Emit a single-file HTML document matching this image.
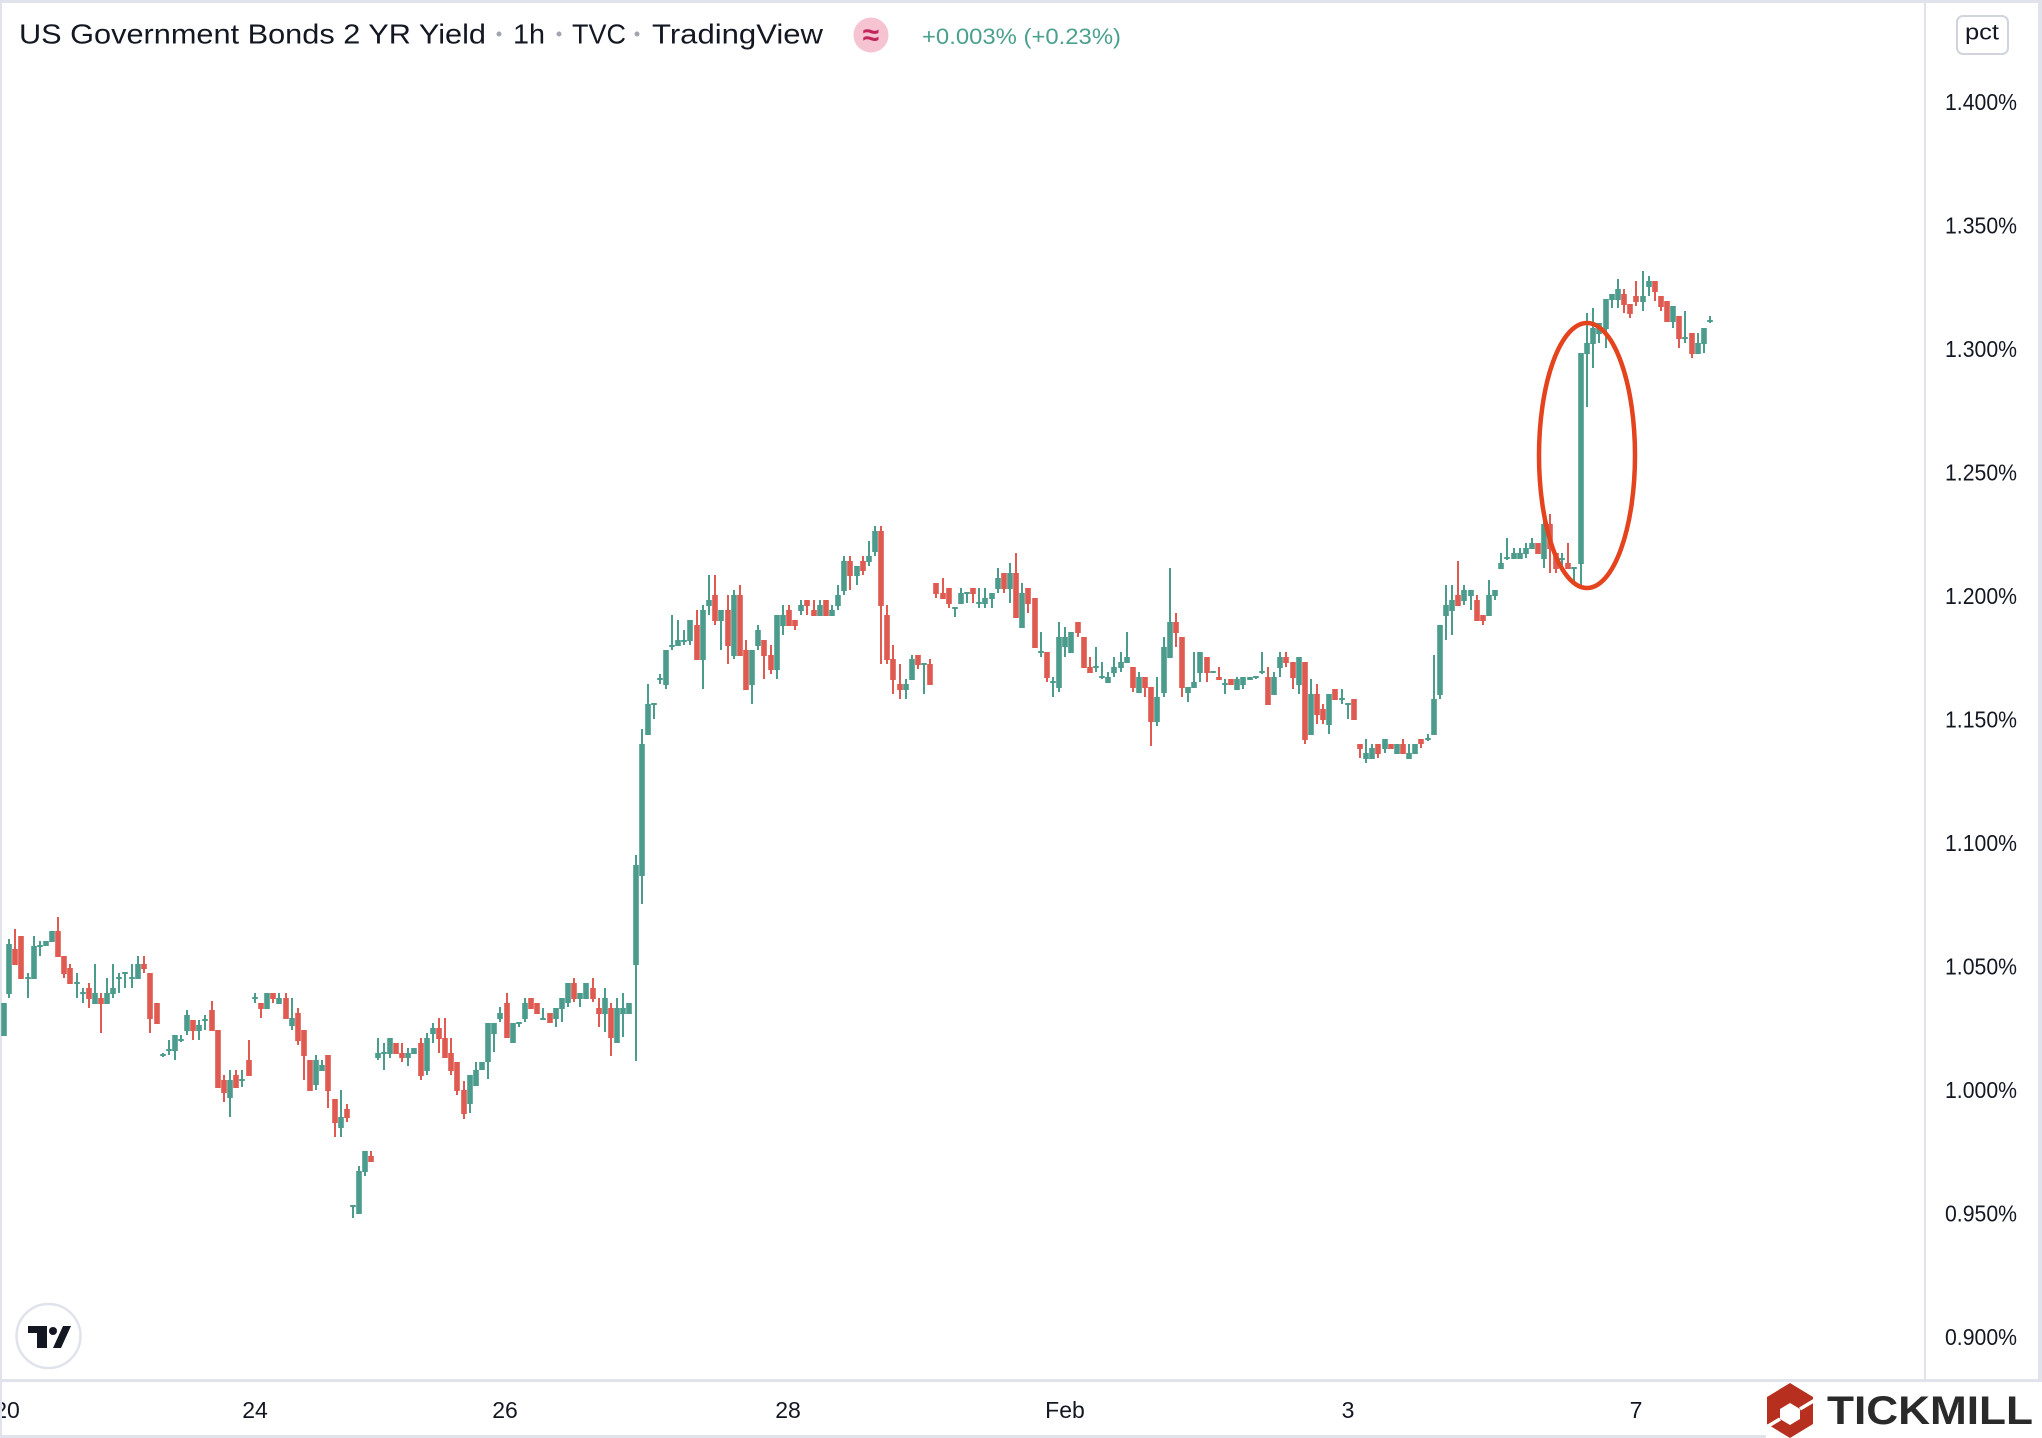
<!DOCTYPE html>
<html>
<head>
<meta charset="utf-8">
<style>
html,body{margin:0;padding:0;background:#fff;}
body{width:2042px;height:1438px;overflow:hidden;position:relative;}
svg{position:absolute;left:0;top:0;display:block;}
text{font-family:"Liberation Sans",Arial,sans-serif;}
</style>
</head>
<body>
<svg id="chart" width="2042" height="1438" viewBox="0 0 2042 1438" xmlns="http://www.w3.org/2000/svg">
  <rect x="0" y="0" width="2042" height="1438" fill="#ffffff"/>
  <!-- borders -->
  <rect x="0" y="0" width="2042" height="3" fill="#e0e3eb"/>
  <rect x="0" y="0" width="2" height="1438" fill="#e0e3eb"/>
  <rect x="2038" y="0" width="4" height="1381" fill="#e0e3eb"/>
  <rect x="0" y="1435" width="1766" height="3" fill="#e0e3eb"/>
  <!-- axis separators -->
  <rect x="1924" y="0" width="2" height="1381" fill="#e0e3eb"/>
  <rect x="0" y="1379" width="2042" height="3" fill="#e0e3eb"/>

  <g id="candles"></g>

  <!-- highlight ellipse -->
  <ellipse cx="1587" cy="455.5" rx="48" ry="132.5" fill="none" stroke="#e5431d" stroke-width="4.5"/>

  <!-- title -->
  <text x="19" y="43.5" font-size="28" fill="#131722" textLength="467" lengthAdjust="spacingAndGlyphs">US Government Bonds 2 YR Yield</text>
  <circle cx="499" cy="34" r="2.5" fill="#a3a6af"/>
  <text x="513" y="43.5" font-size="28" fill="#131722" textLength="32" lengthAdjust="spacingAndGlyphs">1h</text>
  <circle cx="559" cy="34" r="2.5" fill="#a3a6af"/>
  <text x="572" y="43.5" font-size="28" fill="#131722" textLength="54" lengthAdjust="spacingAndGlyphs">TVC</text>
  <circle cx="637" cy="34" r="2.5" fill="#a3a6af"/>
  <text x="652" y="43.5" font-size="28" fill="#131722" textLength="171" lengthAdjust="spacingAndGlyphs">TradingView</text>
  <circle cx="871" cy="35" r="17.5" fill="#f5c3d1"/>
  <text x="871" y="45" font-size="30" font-weight="bold" fill="#c2255c" text-anchor="middle">≈</text>
  <text x="922" y="44" font-size="22" fill="#4ba08e" textLength="199" lengthAdjust="spacingAndGlyphs">+0.003% (+0.23%)</text>

  <!-- pct button -->
  <rect x="1957" y="16" width="51" height="38" rx="6" ry="6" fill="#ffffff" stroke="#d1d4dc" stroke-width="2"/>
  <text x="1982" y="39.5" font-size="22" fill="#131722" text-anchor="middle" textLength="34" lengthAdjust="spacingAndGlyphs">pct</text>

  <!-- price labels -->
  <g font-size="23" fill="#131722">
    <text x="1945" y="110" textLength="72" lengthAdjust="spacingAndGlyphs">1.400%</text>
    <text x="1945" y="233.5" textLength="72" lengthAdjust="spacingAndGlyphs">1.350%</text>
    <text x="1945" y="357" textLength="72" lengthAdjust="spacingAndGlyphs">1.300%</text>
    <text x="1945" y="480.5" textLength="72" lengthAdjust="spacingAndGlyphs">1.250%</text>
    <text x="1945" y="604" textLength="72" lengthAdjust="spacingAndGlyphs">1.200%</text>
    <text x="1945" y="727.5" textLength="72" lengthAdjust="spacingAndGlyphs">1.150%</text>
    <text x="1945" y="851" textLength="72" lengthAdjust="spacingAndGlyphs">1.100%</text>
    <text x="1945" y="974.5" textLength="72" lengthAdjust="spacingAndGlyphs">1.050%</text>
    <text x="1945" y="1098" textLength="72" lengthAdjust="spacingAndGlyphs">1.000%</text>
    <text x="1945" y="1221.5" textLength="72" lengthAdjust="spacingAndGlyphs">0.950%</text>
    <text x="1945" y="1345" textLength="72" lengthAdjust="spacingAndGlyphs">0.900%</text>
  </g>

  <!-- time labels -->
  <g font-size="23" fill="#131722" text-anchor="middle">
    <text x="7" y="1418">20</text>
    <text x="255" y="1418">24</text>
    <text x="505" y="1418">26</text>
    <text x="788" y="1418">28</text>
    <text x="1065" y="1418">Feb</text>
    <text x="1348" y="1418">3</text>
    <text x="1636" y="1418">7</text>
  </g>
  <rect x="0" y="1382" width="2" height="53" fill="#e0e3eb"/>

  <!-- TradingView logo -->
  <circle cx="48.5" cy="1336" r="32" fill="#ffffff" stroke="#e0e3eb" stroke-width="2.5"/>
  <path d="M28 1326 H47 V1348 H37 V1333 H28 Z" fill="#131722"/>
  <circle cx="53" cy="1331" r="4" fill="#131722"/>
  <path d="M63 1326 H71 L61 1348 H53 Z" fill="#131722"/>

  <!-- Tickmill logo -->
  <polygon points="1790,1383 1813,1397 1813,1424 1790,1438 1767,1424 1767,1397" fill="#b7301f"/>
  <polygon points="1790,1403 1800,1409 1800,1419 1790,1425 1780,1419 1780,1409" fill="#ffffff"/>
  <line x1="1800" y1="1409" x2="1815" y2="1400" stroke="#ffffff" stroke-width="3.5"/>
  <line x1="1780" y1="1419" x2="1765" y2="1428" stroke="#ffffff" stroke-width="3.5"/>
  <text x="1827" y="1424" font-size="40" font-weight="bold" fill="#2a2a2a" textLength="206" lengthAdjust="spacingAndGlyphs">TICKMILL</text>
</svg>
<script>
(function(){
var D=[
[4,1003,1036,1003,1036,1],[9,944,994,939,998,1],[15,949,965,929,965,0],[21,936,979,936,979,0],[28,977,979,973,998,1],[34,946,979,936,979,1],[40,945,947,941,956,1],[46,941,946,941,946,1],[52,931,942,931,942,1],[58,931,957,917,957,0],[64,956,974,956,978,0],[70,968,984,964,984,0],[77,982,984,973,998,1],[83,992,994,988,1003,1],[89,988,999,983,1008,0],[95,993,1004,964,1004,1],[101,998,1004,993,1033,0],[107,993,1004,978,1004,1],[113,988,994,964,998,1],[119,977,979,973,993,1],[125,972,974,972,988,1],[132,977,979,964,988,1],[138,964,979,956,979,1],[144,964,969,956,973,0],[150,973,1019,973,1033,0],[157,1003,1024,1003,1024,0],[163,1054,1056,1053,1057,1],[169,1049,1051,1040,1055,1],[175,1035,1051,1035,1060,1],[181,1039,1041,1035,1042,1],[187,1015,1031,1010,1035,1],[193,1020,1031,1020,1040,0],[199,1025,1031,1020,1040,1],[205,1019,1021,1015,1030,1],[212,1010,1031,1001,1031,0],[218,1030,1088,1030,1088,0],[224,1080,1093,1075,1102,0],[230,1080,1098,1070,1117,1],[236,1075,1088,1070,1088,0],[242,1079,1081,1070,1087,1],[249,1060,1076,1040,1076,0],[255,997,999,993,1003,1],[261,1003,1009,1003,1018,0],[267,993,1009,993,1009,1],[273,993,999,993,1003,0],[279,998,1004,993,1004,1],[286,998,1019,993,1019,0],[292,1018,1026,998,1030,1],[298,1013,1041,1008,1045,0],[304,1030,1056,1030,1080,0],[310,1060,1091,1060,1091,0],[316,1060,1085,1055,1090,1],[322,1065,1071,1060,1071,1],[328,1055,1091,1055,1108,0],[335,1099,1123,1099,1137,0],[341,1117,1128,1090,1137,1],[347,1109,1118,1104,1122,0],[353,1205,1207,1205,1218,1],[359,1171,1214,1166,1214,1],[365,1151,1172,1151,1176,1],[371,1156,1162,1151,1162,0],[378,1053,1058,1038,1060,1],[384,1052,1054,1043,1070,1],[390,1038,1054,1038,1058,1],[396,1043,1054,1043,1054,0],[402,1053,1058,1043,1062,0],[408,1053,1058,1048,1066,1],[414,1048,1054,1048,1054,1],[421,1043,1076,1038,1080,0],[427,1038,1071,1033,1075,1],[433,1028,1034,1023,1043,1],[439,1028,1039,1018,1053,0],[445,1038,1058,1018,1058,0],[451,1053,1071,1038,1075,0],[457,1062,1091,1062,1095,0],[464,1090,1114,1081,1119,0],[470,1075,1104,1075,1113,1],[476,1070,1086,1062,1086,1],
[482,1062,1070,1062,1070,1],[488,1023,1062,1023,1079,1],[494,1023,1034,1023,1052,1],[500,1013,1019,1007,1022,1],[507,1003,1038,993,1038,0],[513,1023,1043,1023,1043,1],[519,1022,1024,1022,1027,1],[525,1003,1019,998,1022,1],[531,998,1009,998,1009,0],[537,1003,1014,1003,1014,0],[543,1018,1020,1008,1020,1],[550,1013,1023,1013,1023,0],[556,1008,1019,1008,1027,1],[562,998,1009,998,1022,1],[568,983,1003,983,1007,1],[574,983,999,978,1002,0],[580,993,999,993,1007,1],[586,983,999,983,999,1],[593,988,999,978,1002,0],[599,1008,1014,998,1027,0],[605,998,1014,988,1032,1],[611,1008,1038,1003,1056,0],[617,1008,1043,998,1043,1],[623,1008,1014,993,1037,1],[629,1003,1014,1003,1014,1],[636,865,965,855,1061,1],[642,744,876,729,904,1],[648,704,735,684,735,1],[654,703,705,703,719,1],[660,678,680,674,684,1],[666,650,685,650,689,1],[672,645,647,615,650,1],[678,640,646,620,646,1],[684,640,642,630,645,1],[690,620,641,620,645,1],[697,625,660,610,660,0],[703,610,660,605,689,1],[709,600,606,575,615,1],[715,595,621,575,625,0],[721,610,621,610,650,1],[728,610,646,595,664,0],[734,595,656,590,659,1],[740,595,656,585,656,0],[746,650,690,640,690,0],[752,650,685,650,704,1],[758,630,646,625,650,1],[764,640,656,640,679,0],[771,655,670,645,674,0],[777,615,670,615,679,1],[783,615,626,605,635,1],[789,610,626,605,626,0],[795,620,626,620,630,0],[801,605,611,600,615,1],[807,600,606,600,615,0],[814,610,616,600,616,0],[820,605,616,600,616,1],[826,600,616,600,616,0],[832,610,616,605,616,1],[838,595,606,585,610,1],[844,561,591,556,595,1],[850,561,576,556,590,0],[857,566,576,566,585,1],[863,561,571,556,575,0],[869,556,562,541,566,1],[875,531,552,526,556,1],[881,531,606,526,664,0],[887,615,660,605,664,0],[893,659,680,645,694,0],[900,684,690,664,699,0],[906,684,690,679,699,1],[912,659,680,655,680,1],[918,655,665,655,669,0],[924,663,665,663,694,1],[930,664,685,659,685,0],
[936,583,594,583,598,0],[943,593,599,578,599,0],[949,588,604,588,608,0],[955,607,609,607,617,1],[961,593,604,588,604,1],[967,592,594,592,603,1],[973,588,594,588,603,0],[979,602,604,588,608,1],[985,598,604,588,608,1],[992,593,599,593,608,1],[998,578,589,568,593,1],[1004,573,589,573,593,0],[1010,573,589,563,603,1],[1016,573,618,553,618,0],[1022,593,628,583,628,1],[1028,588,604,588,613,0],[1035,598,648,598,648,0],[1041,651,653,632,657,1],[1047,652,678,652,682,0],[1053,681,683,677,697,1],[1059,637,688,622,692,1],[1065,637,647,627,657,1],[1071,632,653,632,653,1],[1078,622,633,622,637,0],[1084,637,668,637,668,0],[1090,667,673,657,673,0],[1096,666,668,647,672,1],[1102,676,678,662,679,1],[1108,677,683,672,683,1],[1114,667,673,657,677,1],[1121,662,668,652,672,1],[1127,657,663,632,663,1],[1133,667,688,667,692,0],[1139,677,693,672,693,1],[1145,677,688,677,697,0],[1151,687,722,687,746,0],[1157,697,722,677,726,1],[1164,647,693,637,697,1],[1170,622,658,568,658,1],[1176,622,633,613,647,0],[1182,637,688,637,697,0],[1188,687,693,687,702,1],[1194,682,688,652,688,1],[1200,652,673,652,682,1],[1207,657,673,657,682,0],[1213,671,673,671,673,1],[1219,677,680,667,680,0],[1225,683,685,679,694,1],[1231,679,685,679,685,0],[1237,679,690,677,690,1],[1243,677,685,677,689,1],[1250,677,680,677,680,1],[1256,676,678,676,679,1],[1262,671,673,652,674,1],[1268,677,705,667,705,0],[1274,677,695,672,695,1],[1280,657,668,652,677,1],[1286,657,663,652,667,0],[1293,662,678,662,689,0],[1299,657,685,657,694,1],[1305,662,740,662,744,0],[1311,694,735,679,735,1],[1317,694,715,684,724,0],[1323,709,720,704,724,0],[1329,694,725,694,734,1],[1335,689,700,689,700,0],
[1342,698,700,689,704,1],[1348,703,705,703,719,1],[1354,699,720,699,720,0],[1360,744,749,744,758,0],[1366,753,759,739,763,1],[1372,748,759,744,759,1],[1378,744,754,744,758,0],[1385,739,749,739,753,1],[1391,744,749,744,749,0],[1397,744,754,744,754,1],[1403,744,754,739,754,0],[1409,753,759,744,759,1],[1415,744,754,744,754,1],[1421,739,744,739,748,0],[1428,738,740,734,741,1],[1434,699,735,655,735,1],[1440,625,695,625,699,1],[1446,605,616,585,640,1],[1452,600,611,585,635,1],[1458,595,606,561,606,0],[1464,590,601,585,605,1],[1471,590,596,590,610,1],[1477,600,621,595,621,0],[1483,615,621,615,625,0],[1489,595,616,580,616,1],[1495,590,596,590,600,1],[1501,563,569,553,569,1],[1507,557,559,538,560,1],[1514,553,559,548,559,1],[1520,553,559,548,559,1],[1526,548,554,543,558,1],[1532,543,549,538,549,1],[1538,543,554,543,554,0],
[1544,524,559,514,568,1],[1550,524,549,514,573,0],[1556,553,569,553,573,0],[1562,558,560,553,569,1],[1568,563,569,543,569,0],[1574,567,569,567,583,1],[1581,353,564,353,586,1],[1587,343,354,313,407,1],[1593,328,344,308,368,1],[1599,323,334,323,343,1],[1606,299,329,299,348,1],[1612,294,300,294,308,1],[1618,289,300,279,308,1],[1624,294,305,289,313,0],[1630,304,314,304,318,0],[1636,296,302,281,306,0],[1643,296,302,271,311,1],[1649,281,287,276,296,1],[1655,281,292,281,301,0],[1661,296,307,296,311,0],[1667,301,322,301,322,0],[1673,306,322,306,328,1],[1679,316,339,316,348,0],[1685,337,339,311,343,1],[1692,333,354,333,358,0],[1698,343,354,333,354,1],[1704,328,344,328,353,1],[1710,320,322,316,323,1]
];
var G="#4c9c8e",R="#df5a50";
var ns="http://www.w3.org/2000/svg";
var g=document.getElementById("candles");
var pg="",pr="";
for(var i=0;i<D.length;i++){
 var c=D[i],x=c[0],bt=c[1],bb=c[2],wt=Math.min(c[3],bt),wb=Math.max(c[4],bb);
 var bh=Math.max(bb-bt,2);
 var s="M"+(x-1)+" "+wt+"h2v"+(wb-wt)+"h-2z"+"M"+(x-2.8)+" "+bt+"h5.6v"+bh+"h-5.6z";
 if(c[5])pg+=s;else pr+=s;
}
var a=document.createElementNS(ns,"path");a.setAttribute("d",pg);a.setAttribute("fill",G);g.appendChild(a);
var b=document.createElementNS(ns,"path");b.setAttribute("d",pr);b.setAttribute("fill",R);g.appendChild(b);
})();
</script>
</body>
</html>
